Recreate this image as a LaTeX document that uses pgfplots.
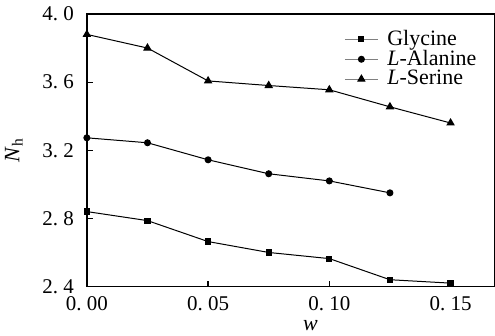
\documentclass[border=0pt]{standalone}
\usepackage{fontspec}
\setmainfont{Liberation Serif}
\usepackage{pgfplots}
\pgfplotsset{compat=1.18}
\newcommand{\dsp}{\hspace{2.6pt}}
\begin{document}
\begin{tikzpicture}
\begin{axis}[
  scale only axis,
  width=204pt, height=136.5pt,
  xmin=0, xmax=0.168, ymin=2.4, ymax=4.0,
  axis line style={line width=0.7pt},
  tick style={line width=0.6pt, black},
  tick align=inside,
  major tick length=3pt,
  xtick={0,0.05,0.10,0.15},
  xticklabels={0.\dsp00,0.\dsp05,0.\dsp10,0.\dsp15},
  ytick={2.4,2.8,3.2,3.6,4.0},
  yticklabels={2.\dsp4,2.\dsp8,3.\dsp2,3.\dsp6,4.\dsp0},
  xtick pos=bottom, ytick pos=left,
  tick label style={font=\fontsize{10.5}{12}\selectfont},
  xticklabel style={yshift=-1.5pt},
  yticklabel style={xshift=-3pt},
  /pgf/number format/assume math mode=true,
  xlabel={\textit{w}},
  xlabel style={font=\fontsize{11}{13}\selectfont, yshift=2pt, xshift=10pt},
  ylabel={\textit{N}\textsubscript{h}},
  ylabel style={font=\fontsize{11}{13}\selectfont, yshift=3pt},
  legend cell align=left,
  legend style={draw=none, fill=none, font=\fontsize{11}{13}\selectfont, at={(rel axis cs:0.972,0.965)}, anchor=north east, row sep=-3pt, inner sep=1pt},
  legend image code/.code={
    \draw[gray, line width=0.4pt] (0pt,0pt) -- (16.5pt,0pt);
    \draw[black, mark repeat=1, mark phase=1] plot coordinates {(8.25pt,0pt)};
    \path (19pt,0pt);
  },
  every axis plot/.append style={black, line width=0.5pt, mark options={solid, fill=black}},
]
\coordinate (sw) at (rel axis cs:0,0);
\coordinate (ne) at (rel axis cs:1,1);
\addplot[mark=square*, mark size=1.3pt] coordinates {
(0,2.84) (0.025,2.787) (0.05,2.664) (0.075,2.60) (0.10,2.564) (0.125,2.44) (0.15,2.42)};
\addlegendentry{Glycine}
\addplot[mark=*, mark size=1.5pt] coordinates {
(0,3.273) (0.025,3.244) (0.05,3.144) (0.075,3.062) (0.10,3.02) (0.125,2.95)};
\addlegendentry{\textit{L}-Alanine}
\addplot[mark=triangle*, mark size=2pt] coordinates {
(0,3.88) (0.025,3.80) (0.05,3.607) (0.075,3.58) (0.10,3.555) (0.125,3.455) (0.15,3.36)};
\addlegendentry{\textit{L}-Serine}
\end{axis}
\pgfresetboundingbox
\path ([shift={(-43.5pt,-24.5pt)}]sw) rectangle ([shift={(0.4pt,7pt)}]ne);
\end{tikzpicture}
\end{document}
